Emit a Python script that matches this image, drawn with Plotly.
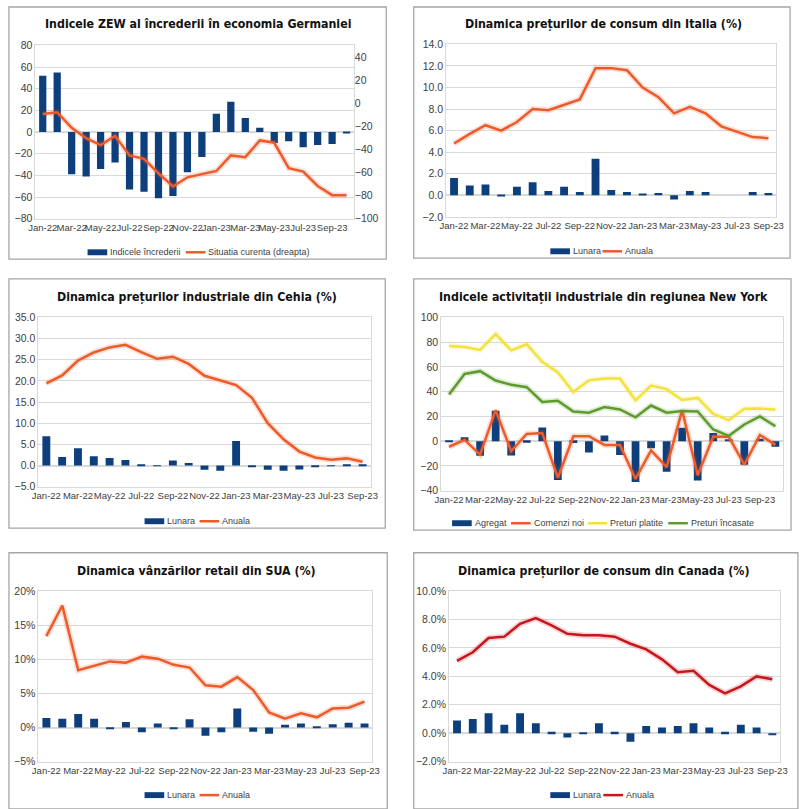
import plotly.graph_objects as go

months = ["Jan-22", "Feb-22", "Mar-22", "Apr-22", "May-22", "Jun-22", "Jul-22", "Aug-22",
          "Sep-22", "Oct-22", "Nov-22", "Dec-22", "Jan-23", "Feb-23", "Mar-23", "Apr-23",
          "May-23", "Jun-23", "Jul-23", "Aug-23", "Sep-23", "Oct-23"]

# Germania - ZEW
zew_incredere = [52, 55, -39, -41, -34, -28, -53, -55, -61, -59, -37, -23,
                 17, 28, 13, 4, -10, -8.5, -14, -12, -11, -1]
zew_situatia = [-9, -7.5, -21, -30, -36, -28, -45, -48, -60.5, -72, -64, -61,
                -58.5, -45, -46.5, -32, -34, -56, -59, -71.5, -79.5, -79.5]

# Italia - preturi de consum
ita_lunara = [1.6, 0.9, 1.0, -0.1, 0.8, 1.2, 0.4, 0.8, 0.3, 3.4, 0.5, 0.3,
              0.1, 0.2, -0.4, 0.4, 0.3, 0.0, 0.0, 0.3, 0.2]
ita_anuala = [4.8, 5.7, 6.5, 6.0, 6.8, 8.0, 7.9, 8.4, 8.9, 11.8, 11.8, 11.6,
              10.0, 9.1, 7.6, 8.2, 7.6, 6.4, 5.9, 5.4, 5.3]

# Cehia - preturi industriale
cz_lunara = [6.9, 2.0, 4.1, 2.2, 1.8, 1.3, 0.3, -0.1, 1.2, 0.6, -1.0, -1.2,
             5.8, -0.2, -1.0, -1.2, -0.9, -0.2, -0.1, 0.1, 0.3]
cz_anuala = [19.4, 21.3, 24.8, 26.7, 27.9, 28.5, 26.8, 25.2, 25.7, 24.0, 21.2, 20.1,
             19.0, 16.0, 10.0, 6.2, 3.3, 1.9, 1.4, 1.7, 0.9]

# New York - Empire State
ny_agregat = [-0.7, 3.1, -11.8, 24.6, -11.6, -1.2, 11.1, -31.3, -1.5, -9.1, 4.5, -11.2,
              -32.9, -5.8, -24.6, 10.8, -31.8, 6.6, 1.1, -19.0, 1.9, -4.6]
ny_comenzi = [-4.5, 1.0, -10.8, 25.0, -8.0, 5.8, 6.5, -29.5, 4.0, 4.0, -3.0, -3.0,
              -30.5, -7.5, -21.0, 25.0, -27.5, 3.8, 3.5, -19.0, 5.0, -3.0]
ny_platite = [76.9, 76.1, 73.6, 86.4, 73.3, 78.2, 64.0, 55.5, 39.7, 49.1, 50.6, 50.6,
              33.0, 44.9, 42.0, 33.2, 34.9, 22.0, 17.0, 26.1, 26.3, 25.6]
ny_incasate = [37.6, 54.3, 56.5, 49.0, 45.5, 43.6, 31.7, 32.7, 24.0, 23.0, 27.6, 25.6,
               19.3, 28.8, 23.0, 24.4, 24.0, 9.4, 4.3, 13.5, 20.0, 12.0]

# SUA - vanzari retail
us_lunara = [1.4, 1.3, 2.0, 1.3, -0.1, 0.8, -0.7, 0.6, -0.1, 1.2, -1.2, -0.7,
             2.8, -0.6, -0.9, 0.4, 0.6, 0.15, 0.5, 0.7, 0.6]
us_anuala = [13.4, 17.9, 8.4, 9.0, 9.7, 9.5, 10.4, 10.1, 9.2, 8.8, 6.2, 6.0,
             7.4, 5.5, 2.2, 1.3, 2.1, 1.5, 2.8, 2.9, 3.8]

# Canada - preturi de consum
ca_lunara = [0.9, 1.0, 1.4, 0.6, 1.4, 0.7, 0.1, -0.3, 0.05, 0.7, 0.1, -0.6,
             0.5, 0.4, 0.5, 0.7, 0.4, 0.1, 0.6, 0.4, -0.1]
ca_anuala = [5.1, 5.7, 6.7, 6.8, 7.7, 8.1, 7.6, 7.0, 6.9, 6.9, 6.8, 6.3,
             5.9, 5.2, 4.3, 4.4, 3.4, 2.8, 3.3, 4.0, 3.8]

W, H = 800, 809
BLUE = "#0e3f7d"
ORANGE = "#ee5a28"
RED = "#c8161e"
YELLOW = "#f3e23c"
GREEN = "#5f9b2c"
GRID = "#d9d9d9"
TXT = "#404040"
TITLE_FONT = dict(family="DejaVu Sans Condensed, Liberation Sans Narrow, sans-serif",
                  size=12.3, color="#111111")


def px_x(v):
    return v / W


def px_y(v):
    return 1 - v / H


fig = go.Figure()

# plot area / frame / title position / legend entries, all in pixels
panels = [
    dict(title="Indicele ZEW al încrederii în economia Germaniei", area=(29, 353, 40, 216),
         frame=(2, 386, 1, 257), tpos=(194, 18), ly=250,
         leg=[("bar", BLUE, 82, "Indicele încrederii"), ("line", ORANGE, 182, "Situatia curenta (dreapta)")]),
    dict(title="Dinamica prețurilor de consum din Italia (%)", area=(447, 783, 39, 214),
         frame=(414, 797, 1, 256), tpos=(607, 18), ly=249,
         leg=[("bar", BLUE, 553, "Lunara"), ("line", ORANGE, 606, "Anuala")]),
    dict(title="Dinamica prețurilor industriale din Cehia (%)", area=(32, 370, 316, 488),
         frame=(2, 385, 277, 530), tpos=(193, 295), ly=523,
         leg=[("bar", BLUE, 140, "Lunara"), ("line", ORANGE, 196, "Anuala")]),
    dict(title="Indicele activitații industriale din regiunea New York", area=(442, 790, 316, 492),
         frame=(414, 798, 277, 532), tpos=(607, 295), ly=525,
         leg=[("bar", BLUE, 453, "Agregat"), ("line", ORANGE, 513, "Comenzi noi"),
              ("line", YELLOW, 591, "Preturi platite"), ("line", GREEN, 673, "Preturi încasate")]),
    dict(title="Dinamica vânzărilor retail din SUA (%)", area=(32, 372, 594, 767),
         frame=(2, 387, 555, 815), tpos=(193, 573), ly=801,
         leg=[("bar", BLUE, 140, "Lunara"), ("line", ORANGE, 196, "Anuala")]),
    dict(title="Dinamica prețurilor de consum din Canada (%)", area=(450, 787, 594, 767),
         frame=(414, 805, 555, 815), tpos=(607, 573), ly=801,
         leg=[("bar", BLUE, 553, "Lunara"), ("line", RED, 607, "Anuala")]),
]

yset = [
    dict(range=[-80, 80], dtick=20, tickformat="d", ticksuffix=""),
    dict(range=[-2, 14], dtick=2, tickformat=".1f", ticksuffix=""),
    dict(range=[-5, 35], dtick=5, tickformat=".1f", ticksuffix=""),
    dict(range=[-40, 100], dtick=20, tickformat="d", ticksuffix=""),
    dict(range=[-5, 20], dtick=5, tickformat="d", ticksuffix="%"),
    dict(range=[-2, 10], dtick=2, tickformat=".1f", ticksuffix="%"),
]
npts = [22, 21, 21, 22, 21, 21]

for i, p in enumerate(panels):
    k = "" if i == 0 else str(i + 1)
    x0, x1, y0, y1 = p["area"]
    n = npts[i]
    fig.layout["xaxis" + k] = dict(
        domain=[px_x(x0), px_x(x1)], anchor="y" + k, range=[-0.5, n - 0.5],
        tickmode="array", tickvals=list(range(0, n, 2)), ticktext=months[0:n:2],
        showgrid=False, showline=True, linecolor=GRID, mirror=True, ticks="",
        tickfont=dict(size=9.5, color=TXT), tickangle=0, zeroline=False, fixedrange=True)
    ys = yset[i]
    fig.layout["yaxis" + k] = dict(
        domain=[px_y(y1), px_y(y0)], anchor="x" + k, range=ys["range"], dtick=ys["dtick"],
        tickformat=ys["tickformat"], ticksuffix=ys["ticksuffix"],
        showgrid=True, gridcolor=GRID, gridwidth=1, zeroline=True, zerolinecolor=GRID,
        showline=True, linecolor=GRID, mirror=True, ticks="",
        tickfont=dict(size=10.5, color=TXT))
    fig.add_shape(type="rect", xref="paper", yref="paper",
                  x0=px_x(p["frame"][0]), x1=px_x(p["frame"][1]),
                  y0=px_y(p["frame"][3]), y1=px_y(p["frame"][2]),
                  line=dict(color="#a6a6a6", width=1.3), fillcolor="rgba(0,0,0,0)", layer="below")
    fig.add_annotation(text="<b>" + p["title"] + "</b>", xref="paper", yref="paper",
                       x=px_x(p["tpos"][0]), y=px_y(p["tpos"][1]), showarrow=False,
                       xanchor="center", yanchor="middle", font=TITLE_FONT)
    # legend drawn by hand, Excel style (wide swatches)
    ly = p["ly"]
    for kind, col, sx, label in p["leg"]:
        if kind == "bar":
            fig.add_shape(type="rect", xref="paper", yref="paper",
                          x0=px_x(sx), x1=px_x(sx + 20), y0=px_y(ly + 3), y1=px_y(ly - 3),
                          line_width=0, fillcolor=col)
        else:
            fig.add_shape(type="line", xref="paper", yref="paper",
                          x0=px_x(sx), x1=px_x(sx + 20), y0=px_y(ly), y1=px_y(ly),
                          line=dict(color=col, width=2.5))
        fig.add_annotation(text=label, xref="paper", yref="paper", x=px_x(sx + 21), y=px_y(ly),
                           xanchor="left", yanchor="middle", showarrow=False,
                           font=dict(size=9, color=TXT))

# secondary axis for ZEW situatia curenta
fig.layout["yaxis7"] = dict(overlaying="y", side="right", anchor="x", range=[-100, 50.5],
                            tickvals=list(range(-100, 41, 20)), showgrid=False, zeroline=False,
                            ticks="", tickfont=dict(size=10.5, color=TXT))

xi = list(range(22))


def bar(vals, name, k):
    return go.Bar(x=xi[:len(vals)], y=vals, name=name, marker_color=BLUE, marker_line_width=0,
                  xaxis="x" + k, yaxis="y" + k)


def line(vals, name, k, color, yaxis=None):
    ya = yaxis if yaxis else "y" + k
    # soft glow under the line, like the excel effect
    fig.add_trace(go.Scatter(x=xi[:len(vals)], y=vals, mode="lines", hoverinfo="skip",
                             line=dict(color=color, width=6), opacity=0.18,
                             xaxis="x" + k, yaxis=ya))
    fig.add_trace(go.Scatter(x=xi[:len(vals)], y=vals, name=name, mode="lines",
                             line=dict(color=color, width=2.5), xaxis="x" + k, yaxis=ya))


fig.add_trace(bar(zew_incredere, "Indicele încrederii", ""))
line(zew_situatia, "Situatia curenta (dreapta)", "", ORANGE, "y7")

fig.add_trace(bar(ita_lunara, "Lunara", "2"))
line(ita_anuala, "Anuala", "2", ORANGE)

fig.add_trace(bar(cz_lunara, "Lunara", "3"))
line(cz_anuala, "Anuala", "3", ORANGE)

fig.add_trace(bar(ny_agregat, "Agregat", "4"))
line(ny_comenzi, "Comenzi noi", "4", ORANGE)
line(ny_platite, "Preturi platite", "4", YELLOW)
line(ny_incasate, "Preturi încasate", "4", GREEN)

fig.add_trace(bar(us_lunara, "Lunara", "5"))
line(us_anuala, "Anuala", "5", ORANGE)

fig.add_trace(bar(ca_lunara, "Lunara", "6"))
line(ca_anuala, "Anuala", "6", RED)

fig.update_layout(width=W, height=H, margin=dict(l=0, r=0, t=0, b=0),
                  paper_bgcolor="white", plot_bgcolor="white", barmode="overlay", bargap=0.5,
                  font=dict(family="Liberation Sans, Arial, sans-serif", color=TXT),
                  showlegend=False)

fig.write_html("out.html", config={"displayModeBar": False},
               post_script="document.body.style.margin='0';document.body.style.overflow='hidden';")
